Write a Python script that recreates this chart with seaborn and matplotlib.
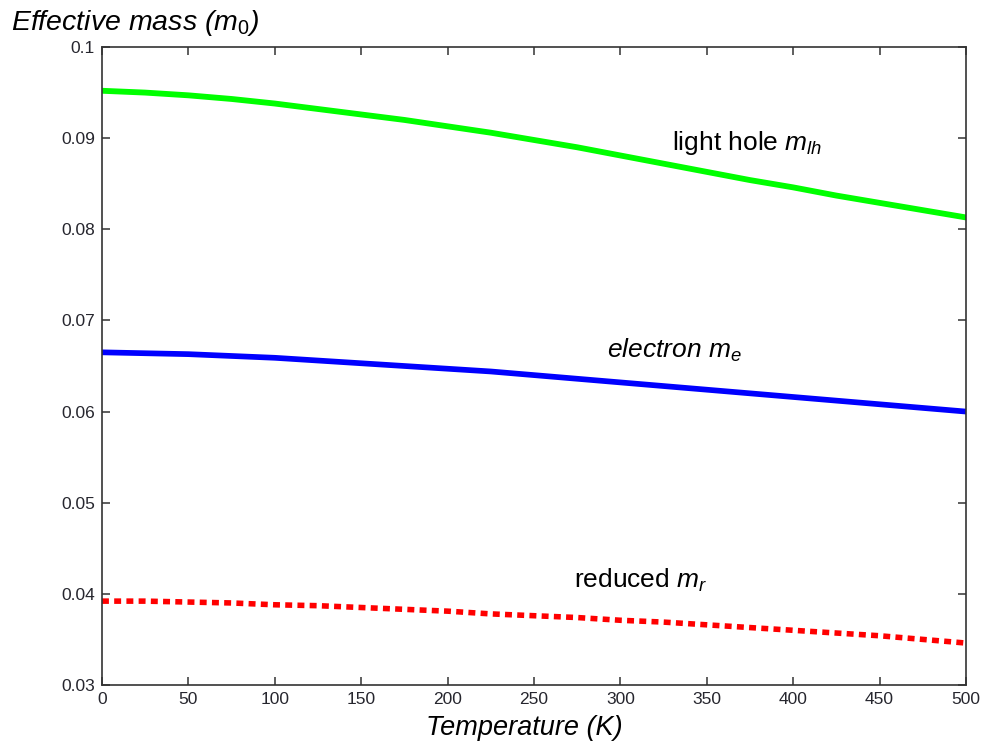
import numpy as np
import pandas as pd
import matplotlib
matplotlib.use("Agg")
import matplotlib.pyplot as plt
import seaborn as sns

temperature = [0, 25, 50, 75, 100, 125, 150, 175, 200, 225, 250,
               275, 300, 325, 350, 375, 400, 425, 450, 475, 500]
light_hole = [0.0952, 0.0950, 0.0947, 0.0943, 0.0938, 0.0932, 0.0926, 0.0920, 0.0913, 0.0906, 0.0898,
              0.0890, 0.0881, 0.0872, 0.0863, 0.0854, 0.0846, 0.0837, 0.0829, 0.0821, 0.0813]
electron = [0.0665, 0.0664, 0.0663, 0.0661, 0.0659, 0.0656, 0.0653, 0.0650, 0.0647, 0.0644, 0.0640,
            0.0636, 0.0632, 0.0628, 0.0624, 0.0620, 0.0616, 0.0612, 0.0608, 0.0604, 0.0600]
reduced = [0.0392, 0.0392, 0.0391, 0.0390, 0.0388, 0.0387, 0.0385, 0.0383, 0.0381, 0.0378, 0.0376,
           0.0374, 0.0371, 0.0369, 0.0366, 0.0363, 0.0360, 0.0357, 0.0354, 0.0350, 0.0346]
x_ticks = [0, 50, 100, 150, 200, 250, 300, 350, 400, 450, 500]
y_ticks = [0.03, 0.04, 0.05, 0.06, 0.07, 0.08, 0.09, 0.1]
y_tick_labels = ["0.03", "0.04", "0.05", "0.06", "0.07", "0.08", "0.09", "0.1"]

sns.set_style("white")
plt.rcParams["font.family"] = ["Liberation Sans", "DejaVu Sans"]
plt.rcParams["mathtext.fontset"] = "custom"
plt.rcParams["mathtext.rm"] = "Liberation Sans"
plt.rcParams["mathtext.it"] = "Liberation Sans:italic"
plt.rcParams["text.color"] = "black"

df = pd.DataFrame({"T": temperature, "lh": light_hole, "e": electron, "r": reduced})

fig = plt.figure(figsize=(9.87, 7.5), dpi=100)
ax = fig.add_axes([0.1033, 0.0867, 0.9787 - 0.1033, 0.9373 - 0.0867])

sns.lineplot(data=df, x="T", y="lh", ax=ax, color="#00ff00", lw=4.2)
sns.lineplot(data=df, x="T", y="e", ax=ax, color="#0000ff", lw=4.1)
l = sns.lineplot(data=df, x="T", y="r", ax=ax, color="#ff0000", lw=4.0)
l.lines[-1].set_linestyle((0, (1.25, 0.95)))
l.lines[-1].set_dash_capstyle("butt")

ax.set_xlim(0, 500)
ax.set_ylim(0.03, 0.1)
ax.set_xticks(x_ticks)
ax.set_xticklabels([str(v) for v in x_ticks])
ax.set_yticks(y_ticks)
ax.set_yticklabels(y_tick_labels)
ax.tick_params(direction="in", length=6, width=1.1, color="#333333", labelcolor="#26262e",
               labelsize=12.5, top=True, right=True, bottom=True, left=True, pad=5)
for s in ax.spines.values():
    s.set_visible(True)
    s.set_color("#333333")
    s.set_linewidth(1.2)

ax.set_xlabel("")
ax.set_ylabel("")
fig.text(0.531, 0.029, "Temperature (K)", ha="center", va="center", fontsize=19.5,
         style="italic", color="black")
fig.text(0.011, 0.969, r"Effective mass ($\mathit{m_0}$)", ha="left", va="center", fontsize=20.5,
         style="italic", color="black")

ax.text(330, 0.0895, r"light hole $m_{lh}$", fontsize=19, ha="left", va="center", color="black")
ax.text(292, 0.0667, r"electron $m_e$", fontsize=19, ha="left", va="center", style="italic", color="black")
ax.text(273, 0.0415, r"reduced $m_r$", fontsize=19, ha="left", va="center", color="black")

fig.savefig("out.png", dpi=100, facecolor="white")
